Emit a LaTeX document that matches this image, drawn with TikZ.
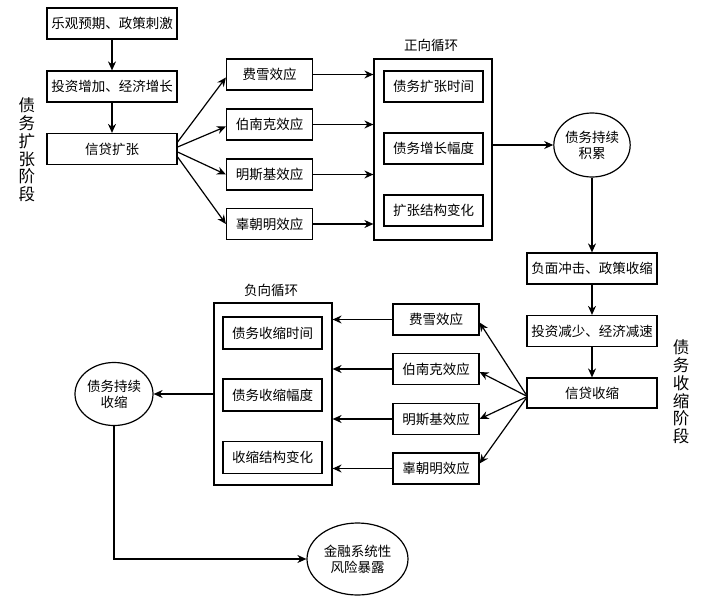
\documentclass[tikz,border=0pt]{standalone}
\usepackage{fontspec}
\setmainfont{Noto Sans CJK SC}
\usetikzlibrary{shapes, arrows.meta, positioning}

\begin{document}
\begin{tikzpicture}[x=1pt, y=-1pt, >={Stealth[length=9pt,width=8pt]},
    every node/.style={font=\fontsize{13.5}{15}\selectfont},
    box/.style={draw, line width=1.2pt, minimum width=130pt, minimum height=31pt, inner sep=0pt},
    effbox/.style={box, minimum width=86pt},
    inbox/.style={box, minimum width=99pt},
    loopframe/.style={draw, line width=1.2pt, minimum width=118pt, minimum height=182pt, inner sep=0pt},
    oval/.style={draw, ellipse, line width=1.2pt, inner sep=0pt, align=center, font=\fontsize{13.5}{16}\selectfont},
    vtext/.style={align=center, font=\fontsize{16.5}{17.8}\selectfont},
    link/.style={->, line width=1.2pt}]
        \useasboundingbox (0,0) rectangle (710,608);

        % Expansion stage
        \node[box] (opt) at (112,23.5) {乐观预期、政策刺激};
        \node[box] (inv) at (112,86.5) {投资增加、经济增长};
        \node[box] (xin) at (112,149) {信贷扩张};
        \node[vtext] (stageA) at (27,150) {债\\务\\扩\\张\\阶\\段};
        \draw[link] (opt) -- (inv);
        \draw[link] (inv) -- (xin);

        % Effects (upper)
        \node[effbox] (fx1) at (269.5,74.5) {费雪效应};
        \node[effbox] (bn1) at (269.5,124.5) {伯南克效应};
        \node[effbox] (ms1) at (269.5,174.5) {明斯基效应};
        \node[effbox] (gu1) at (269.5,224) {辜朝明效应};
        \draw[link] ([yshift=7pt]xin.east) -- ([yshift=-3pt]fx1.west);
        \draw[link] ([yshift=2pt]xin.east) -- ([yshift=-2pt]bn1.west);
        \draw[link] ([yshift=-3pt]xin.east) -- (ms1.west);
        \draw[link] ([yshift=-8pt]xin.east) -- (gu1.west);

        % Positive loop
        \node[loopframe, minimum height=181pt] (posloop) at (433,149.5) {};
        \node (postitle) at (431,45) {正向循环};
        \node[inbox] (p1) at (433.5,86.5) {债务扩张时间};
        \node[inbox] (p2) at (433.5,148.5) {债务增长幅度};
        \node[inbox] (p3) at (433.5,210.5) {扩张结构变化};
        \foreach \e in {fx1, bn1, ms1, gu1}
            \draw[link] (\e.east) -- (\e.east -| posloop.west);

        \node[oval, minimum width=76pt, minimum height=64pt] (acc) at (592,145) {债务持续\\积累};
        \draw[link] (posloop.east |- acc.west) -- (acc.west);

        % Contraction stage
        \node[box] (neg) at (592,268.5) {负面冲击、政策收缩};
        \node[box] (dec) at (592,331) {投资减少、经济减速};
        \node[box, minimum height=30pt] (shr) at (592,393) {信贷收缩};
        \node[vtext] (stageB) at (681,392) {债\\务\\收\\缩\\阶\\段};
        \draw[link] (acc) -- (neg);
        \draw[link] (neg) -- (dec);
        \draw[link] (dec) -- (shr);

        % Effects (lower)
        \node[effbox] (fx2) at (436,319.5) {费雪效应};
        \node[effbox] (bn2) at (436,369) {伯南克效应};
        \node[effbox] (ms2) at (436,419) {明斯基效应};
        \node[effbox] (gu2) at (436,468.5) {辜朝明效应};
        \draw[link] ([yshift=-2pt]shr.west) -- ([yshift=-3pt]fx2.east);
        \draw[link] ([yshift=-3pt]shr.west) -- ([yshift=-3pt]bn2.east);
        \draw[link] ([yshift=-4pt]shr.west) -- (ms2.east);
        \draw[link] ([yshift=-5pt]shr.west) -- ([yshift=5pt]gu2.east);

        % Negative loop
        \node[loopframe] (negloop) at (273,394) {};
        \node (negtitle) at (271,290) {负向循环};
        \node[inbox, minimum height=32pt] (n1) at (272.5,333) {债务收缩时间};
        \node[inbox, minimum height=32pt] (n2) at (272.5,395) {债务收缩幅度};
        \node[inbox, minimum height=32pt] (n3) at (272.5,457.5) {收缩结构变化};
        \foreach \e in {fx2, bn2, ms2, gu2}
            \draw[link] (\e.west) -- (\e.west -| negloop.east);

        \node[oval, minimum width=78pt, minimum height=63pt] (con) at (114,394) {债务持续\\收缩};
        \draw[link] (negloop.west) -- (con.east);

        \node[oval, minimum width=101pt, minimum height=72pt] (risk) at (357.5,559) {金融系统性\\风险暴露};
        \draw[link] (con.south) |- (risk.west);
    \end{tikzpicture}
\end{document}
